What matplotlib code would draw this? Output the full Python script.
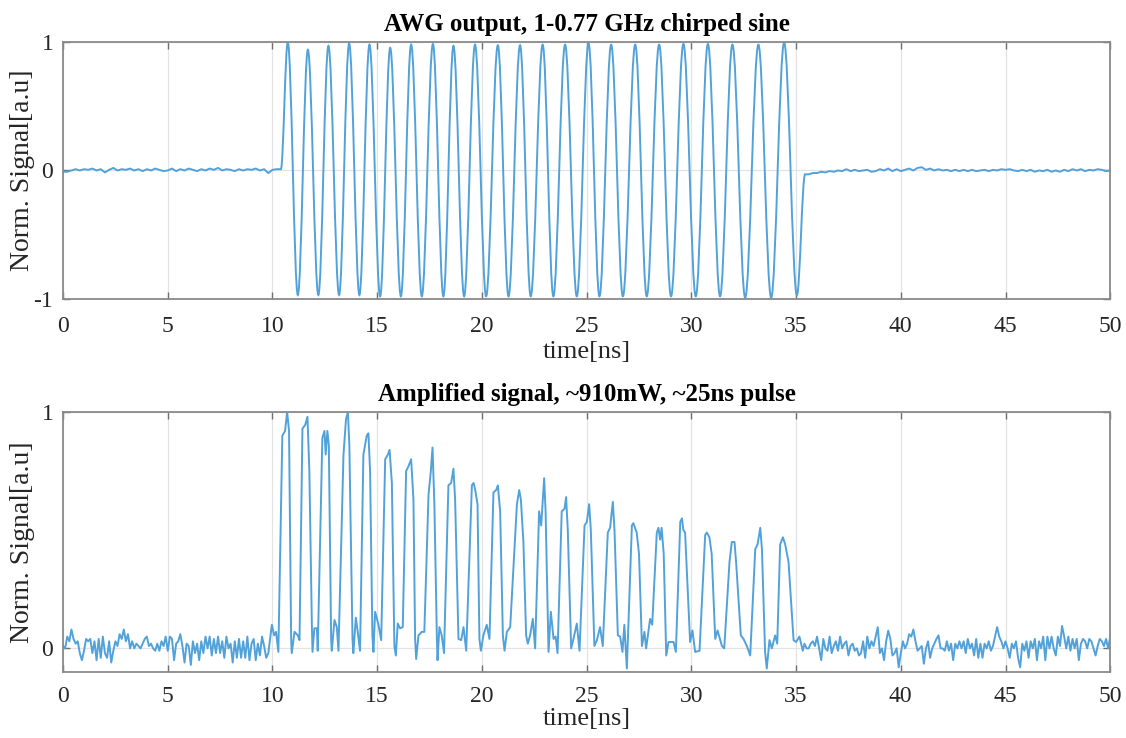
import numpy as np
import matplotlib
matplotlib.use("Agg")
import matplotlib.pyplot as plt
from matplotlib.path import Path
from matplotlib.patches import PathPatch

plt.rcParams["font.family"] = ["Liberation Serif", "DejaVu Serif"]
plt.rcParams["axes.unicode_minus"] = False

LINE_COLOR = "#52a2da"
LINE_WIDTH = 1.4

# ---------------- AWG output (top) ----------------
# baseline before the pulse, sampled every 0.2 ns from 0 ns
awg_pre_step = 0.2
awg_pre = [-0.01, -0.01, 0.0, 0.01, 0.0, 0.01, 0.005, 0.015, 0.0, 0.01,
           -0.015, 0.005, 0.02, 0.0, 0.01, 0.005, 0.015, 0.0, 0.01, -0.005,
           0.01, 0.0, 0.015, 0.005, -0.005, 0.0, 0.015, -0.005, 0.01, 0.0,
           0.015, 0.005, -0.005, 0.01, 0.0, 0.015, 0.005, 0.02, 0.0, 0.01,
           0.005, -0.005, 0.01, 0.0, 0.01, 0.005, 0.015, 0.0, 0.01, -0.02,
           0.005, 0.01, 0.01]

# chirped burst: peaks / troughs (ns, normalized amplitude)
awg_burst_t = [10.73, 11.21, 11.69, 12.19, 12.67, 13.18, 13.66, 14.15, 14.63, 15.14,
               15.62, 16.13, 16.62, 17.13, 17.66, 18.16, 18.64, 19.15, 19.67, 20.20,
               20.76, 21.27, 21.82, 22.33, 22.90, 23.41, 23.97, 24.53, 25.09, 25.61,
               26.17, 26.73, 27.32, 27.87, 28.46, 29.03, 29.62, 30.21, 30.79, 31.37,
               31.96, 32.57, 33.20, 33.81, 34.43, 35.04, 35.43]
awg_burst_v = [1.00, -0.97, 0.94, -0.97, 0.97, -0.97, 0.99, -0.97, 0.98, -0.98,
               0.955, -0.98, 0.98, -0.98, 0.985, -0.98, 0.97, -0.98, 0.98, -0.98,
               0.975, -0.98, 0.975, -0.98, 0.98, -0.98, 0.98, -0.98, 0.99, -0.98,
               0.98, -0.98, 0.98, -0.98, 0.98, -0.98, 0.985, -0.98, 0.985, -0.98,
               0.98, -0.99, 0.98, -0.99, 0.995, -0.97, -0.03]

# baseline after the pulse, sampled every 0.2 ns from 35.6 ns
awg_post_start = 35.6
awg_post_step = 0.2
awg_post = [-0.03, -0.02, -0.02, -0.01, -0.015, -0.005, -0.01, 0.0, -0.005, 0.01,
            -0.005, 0.005, -0.005, 0.0, 0.005, -0.01, -0.005, 0.01, 0.0, 0.015,
            -0.005, 0.01, -0.005, 0.005, 0.015, 0.0, 0.02, 0.025, 0.005, 0.015,
            0.0, 0.01, 0.0, 0.005, -0.005, 0.005, -0.005, 0.005, -0.005, 0.005,
            -0.005, 0.0, 0.005, -0.005, 0.005, 0.0, 0.01, 0.005, 0.01, 0.0,
            -0.005, 0.005, -0.005, 0.005, -0.01, 0.0, -0.005, 0.005, -0.01, 0.0,
            -0.01, 0.005, -0.005, 0.01, 0.0, 0.01, -0.005, 0.005, 0.0, 0.01,
            0.005, -0.005, 0.0]

# ---------------- amplified signal (bottom) ----------------
amp_pre_step = 0.1
amp_pre = [0.01, 0.0, 0.05, 0.03, 0.08, 0.04, 0.02, 0.03, -0.02, -0.05,
           -0.01, 0.04, 0.03, 0.04, -0.02, 0.03, -0.05, 0.04, -0.04, 0.05,
           -0.02, -0.04, 0.03, -0.06, -0.01, 0.03, 0.01, 0.06, 0.04, 0.08,
           0.03, 0.06, 0.0, 0.03, 0.0, 0.02, 0.01, 0.0, 0.02, 0.04,
           0.05, 0.01, 0.02, 0.0, -0.01, 0.02, -0.01, 0.03, 0.01, 0.05,
           -0.01, 0.05, 0.04, -0.05, 0.02, 0.03, 0.06, 0.01, -0.06, 0.02,
           0.01, -0.07, 0.03, -0.02, 0.02, -0.05, 0.03, -0.02, 0.05, 0.0,
           0.05, -0.03, 0.04, -0.02, 0.05, -0.02, 0.03, -0.04, 0.05, 0.0,
           0.02, -0.06, 0.03, -0.04, 0.04, -0.04, 0.03, -0.04, 0.05, -0.05,
           0.02, 0.04, -0.05, 0.02, -0.03, 0.05, 0.01, -0.04]

amp_pulse_t = [9.80, 9.97, 10.08, 10.17, 10.28, 10.47, 10.60, 10.70, 10.79, 10.89,
               10.92, 11.05, 11.21, 11.29, 11.43, 11.56, 11.67, 11.76, 11.88, 11.91,
               12.00, 12.12, 12.16, 12.38, 12.48, 12.54, 12.62, 12.69, 12.80, 12.83,
               12.96, 13.07, 13.15, 13.39, 13.51, 13.60, 13.67, 13.82, 13.86, 13.98,
               14.07, 14.18, 14.34, 14.50, 14.58, 14.66, 14.77, 14.82, 14.90, 15.06,
               15.19, 15.38, 15.51, 15.59, 15.70, 15.82, 15.89, 15.98, 16.09, 16.22,
               16.38, 16.49, 16.62, 16.73, 16.81, 16.86, 16.97, 17.13, 17.25, 17.45,
               17.56, 17.64, 17.73, 17.85, 17.88, 17.97, 18.08, 18.19, 18.40, 18.53,
               18.64, 18.72, 18.88, 19.01, 19.12, 19.25, 19.52, 19.60, 19.68, 19.79,
               19.88, 19.95, 20.07, 20.23, 20.36, 20.55, 20.68, 20.76, 20.87, 21.00,
               21.08, 21.19, 21.35, 21.67, 21.78, 21.86, 21.98, 22.11, 22.19, 22.30,
               22.43, 22.54, 22.73, 22.83, 22.97, 23.04, 23.18, 23.29, 23.42, 23.52,
               23.61, 23.81, 23.94, 24.02, 24.10, 24.26, 24.37, 24.53, 24.66, 24.90,
               25.01, 25.12, 25.20, 25.37, 25.49, 25.64, 25.77, 26.01, 26.12, 26.25,
               26.33, 26.49, 26.60, 26.71, 26.80, 26.92, 27.16, 27.23, 27.39, 27.50,
               27.64, 27.76, 27.84, 28.03, 28.13, 28.35, 28.43, 28.51, 28.58, 28.68,
               28.80, 28.91, 29.15, 29.26, 29.47, 29.55, 29.62, 29.70, 29.94, 30.05,
               30.18, 30.39, 30.66, 30.74, 30.86, 30.97, 31.14, 31.25, 31.46, 31.57,
               31.82, 31.93, 32.06, 32.14, 32.36, 32.49, 32.65, 32.81, 33.05, 33.16,
               33.29, 33.37, 33.52, 33.60, 33.73, 33.84, 34.00, 34.10, 34.24, 34.37,
               34.48, 34.64, 34.88, 35.00, 35.16, 35.32]
amp_pulse_v = [-0.02, 0.10, 0.055, 0.07, -0.015, 0.90, 0.92, 1.00, 0.92, 0.04,
               -0.02, 0.07, 0.055, 0.035, 0.93, 0.945, 0.98, 0.75, 0.10, -0.015,
               0.085, 0.085, -0.01, 0.89, 0.92, 0.82, 0.92, 0.86, 0.04, -0.01,
               0.12, 0.09, -0.01, 0.82, 0.97, 1.00, 0.86, 0.04, -0.02, 0.13,
               0.07, -0.01, 0.82, 0.90, 0.91, 0.75, 0.055, -0.015, 0.155, 0.10,
               0.035, 0.80, 0.82, 0.84, 0.70, 0.01, -0.03, 0.105, 0.085, 0.09,
               0.75, 0.77, 0.80, 0.63, 0.04, -0.045, 0.055, 0.07, 0.07, 0.65,
               0.75, 0.85, 0.61, 0.04, -0.05, 0.09, 0.055, -0.02, 0.69, 0.70,
               0.76, 0.63, 0.04, 0.035, 0.09, -0.01, 0.69, 0.70, 0.67, 0.61,
               0.04, -0.01, 0.055, 0.10, 0.04, 0.66, 0.67, 0.69, 0.58, 0.055,
               -0.01, 0.07, 0.09, 0.61, 0.67, 0.63, 0.45, 0.055, 0.02, 0.055,
               0.125, 0.0, 0.58, 0.52, 0.72, 0.58, -0.015, 0.155, 0.04, 0.05,
               -0.02, 0.58, 0.59, 0.64, 0.50, 0.0, 0.04, 0.105, -0.01, 0.52,
               0.535, 0.61, 0.50, 0.01, 0.035, 0.09, 0.01, 0.49, 0.51, 0.62,
               0.50, 0.055, 0.05, -0.015, 0.10, -0.085, 0.52, 0.53, 0.49, 0.40,
               0.01, 0.07, 0.0, 0.125, 0.10, 0.49, 0.51, 0.46, 0.51, 0.40,
               -0.03, 0.027, 0.027, -0.015, 0.535, 0.55, 0.50, 0.49, 0.027, 0.076,
               -0.015, -0.01, 0.48, 0.49, 0.47, 0.40, 0.04, 0.076, 0.01, 0.0,
               0.365, 0.45, 0.45, 0.36, 0.055, 0.04, 0.01, -0.03, 0.42, 0.44,
               0.51, 0.42, -0.015, -0.085, 0.035, 0.0, 0.055, 0.02, 0.44, 0.47,
               0.44, 0.365, 0.035, 0.027, 0.05, -0.01]

amp_post_start = 35.4
amp_post_step = 0.1
amp_post = [0.02, 0.0, 0.0, 0.02, 0.03, 0.01, 0.05, 0.0, -0.05, 0.04,
            0.0, -0.01, 0.05, -0.02, 0.01, 0.03, -0.01, 0.05, 0.0, 0.02,
            0.03, -0.03, 0.01, 0.02, -0.01, 0.0, -0.03, -0.02, 0.03, -0.04,
            0.05, 0.0, 0.03, 0.01, 0.05, 0.09, -0.02, 0.0, -0.05, 0.03,
            0.075, 0.04, -0.03, -0.02, 0.0, -0.08, -0.02, 0.03, 0.0, 0.02,
            0.06, 0.05, 0.08, 0.03, -0.01, 0.0, 0.01, -0.065, 0.0, 0.03,
            -0.04, 0.0, 0.02, 0.04, 0.055, 0.0, 0.0, -0.01, 0.03, -0.01,
            0.02, -0.05, 0.02, 0.0, 0.03, 0.0, 0.03, -0.02, 0.04, 0.0,
            0.02, -0.03, 0.04, -0.04, 0.02, -0.04, 0.02, 0.0, 0.03, -0.01,
            0.01, 0.05, 0.09, 0.05, 0.03, 0.0, 0.03, 0.0, -0.04, 0.02,
            0.0, 0.03, -0.04, -0.08, 0.02, -0.01, 0.03, -0.04, 0.03, 0.0,
            0.04, -0.05, 0.03, 0.0, 0.05, -0.05, 0.05, 0.0, 0.05, 0.0,
            -0.03, 0.05, 0.01, 0.095, 0.05, 0.0, 0.05, -0.01, 0.04, 0.0,
            0.04, -0.05, 0.02, 0.04, 0.03, 0.0, 0.04, 0.03, 0.0, -0.03,
            0.01, 0.04, 0.03, 0.01, 0.04, 0.0, 0.05]


def sampled(start, step, values):
    return start + step * np.arange(len(values)), np.asarray(values)


def extrema_path(start, knots_t, knots_v):
    # cubic segments with flat tangents at each peak/trough -> sine-like lobes
    verts = [start]
    codes = [Path.MOVETO]
    t0, v0 = start
    for t, v in zip(knots_t, knots_v):
        h = 0.3634 * (t - t0)
        verts += [(t0 + h, v0), (t - h, v), (t, v)]
        codes += [Path.CURVE4] * 3
        t0, v0 = t, v
    return Path(verts, codes)


def style_axes(ax, ylim, yticks, xlabel_y, xpad):
    ax.set_xlim(0, 50)
    ax.set_ylim(*ylim)
    ax.set_xticks(np.arange(0, 51, 5))
    ax.set_yticks(yticks)
    ax.grid(True, color="#e3e3e3", linewidth=0.9)
    ax.set_axisbelow(True)
    ax.tick_params(direction="in", length=5, width=1.0, color="#707070",
                   labelsize=17, labelcolor="#262626", top=True, right=True)
    ax.tick_params(axis="x", pad=xpad)
    ax.tick_params(axis="y", pad=7)
    for sp in ax.spines.values():
        sp.set_color("#8a8a8a")
        sp.set_linewidth(1.3)
    ax.set_xlabel("time[ns]", fontsize=19, color="#262626")
    ax.xaxis.set_label_coords(0.5, xlabel_y)
    ax.set_ylabel("Norm. Signal[a.u]", fontsize=20, color="#262626")
    ax.yaxis.set_label_coords(-0.027, 0.5)


fig = plt.figure(figsize=(11.26, 7.38), dpi=100)

# top: AWG chirp
ax1 = fig.add_axes([0.056, 0.595, 0.930, 0.348])
pre_t, pre_v = sampled(0.0, awg_pre_step, awg_pre)
post_t, post_v = sampled(awg_post_start, awg_post_step, awg_post)
ax1.plot(pre_t, pre_v, color=LINE_COLOR, linewidth=LINE_WIDTH)
ax1.add_patch(PathPatch(extrema_path((pre_t[-1], pre_v[-1]), awg_burst_t, awg_burst_v),
                        fill=False, edgecolor=LINE_COLOR, linewidth=LINE_WIDTH))
ax1.plot(np.r_[awg_burst_t[-1], post_t], np.r_[awg_burst_v[-1], post_v],
         color=LINE_COLOR, linewidth=LINE_WIDTH)
style_axes(ax1, (-1, 1), [-1, 0, 1], -0.165, 12)
ax1.set_title("AWG output, 1-0.77 GHz chirped sine", fontsize=18,
              fontweight="bold", pad=8)

# bottom: amplified pulse
ax2 = fig.add_axes([0.056, 0.0894, 0.930, 0.3523])
pre_t, pre_v = sampled(0.0, amp_pre_step, amp_pre)
post_t, post_v = sampled(amp_post_start, amp_post_step, amp_post)
t2 = np.concatenate([pre_t, amp_pulse_t, post_t])
v2 = np.concatenate([pre_v, amp_pulse_v, post_v])
ax2.plot(t2, v2, color=LINE_COLOR, linewidth=LINE_WIDTH, solid_joinstyle="round")
style_axes(ax2, (-0.1, 1), [0, 1], -0.138, 10)
ax2.set_title("Amplified signal, ~910mW, ~25ns pulse", fontsize=18,
              fontweight="bold", pad=8)

fig.savefig("out.png", dpi=100)
